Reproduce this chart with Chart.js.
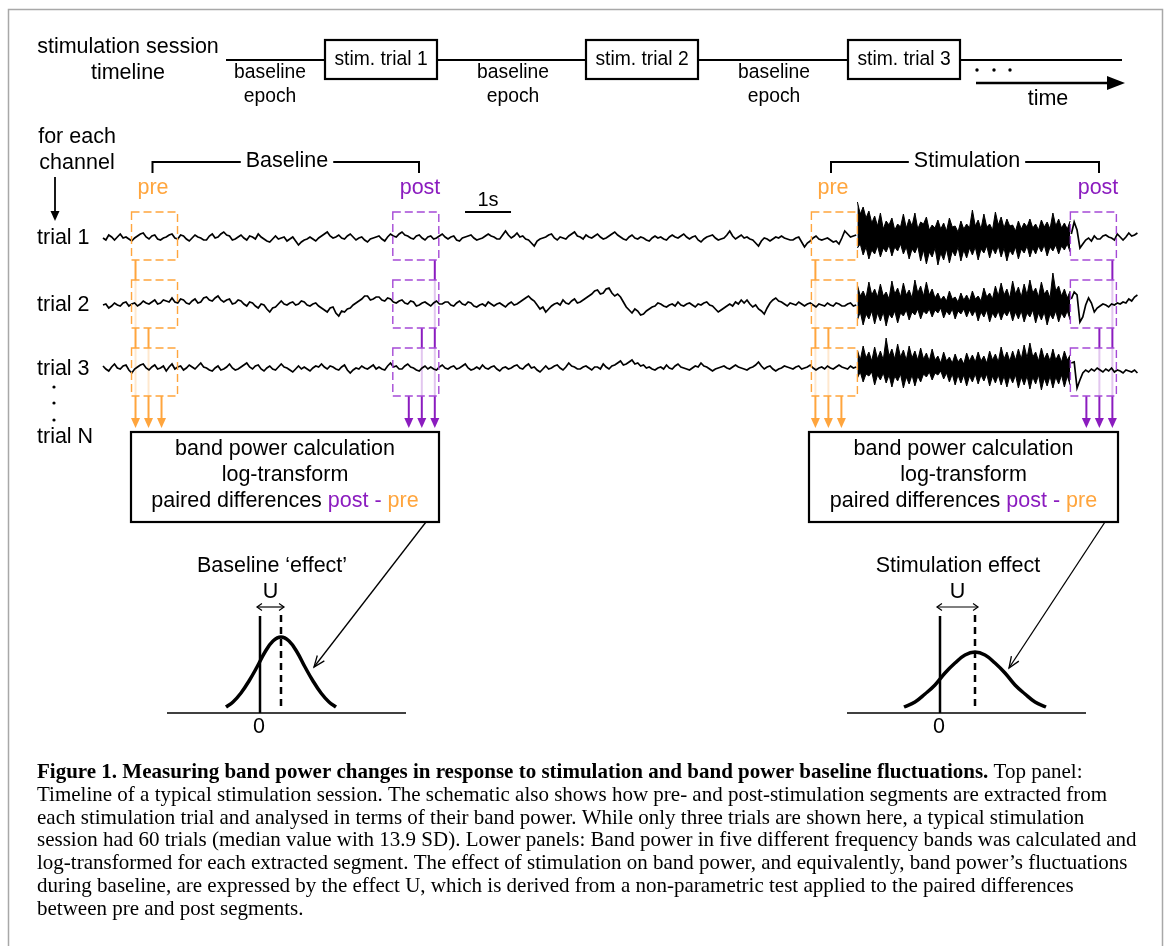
<!DOCTYPE html>
<html>
<head>
<meta charset="utf-8">
<script src="https://cdn.jsdelivr.net/npm/chart.js@4.4.0/dist/chart.umd.min.js"></script>
<style>
  html, body { margin: 0; padding: 0; background: #fff; overflow: hidden; }
  #chart { display: block; }
</style>
</head>
<body>
<canvas id="chart" width="1168" height="946"></canvas>
<script>
// ---- data --------------------------------------------------------------
const stimTrials = ['stim. trial 1', 'stim. trial 2', 'stim. trial 3'];
const trialLabels = ['trial 1', 'trial 2', 'trial 3'];
const boxLines = ['band power calculation', 'log-transform', 'paired differences '];

// samples of the recorded traces, 0.0625 s apart (amplitude, up = positive)
const DT = 0.0625;
const PRE_T0 = 0, STIM_T0 = 16.4, POST_T0 = 21.05;

const t1Pre = [
   0,-2, 3, 1,-2, 1, 4, 0, 1,-1,-3, 0, 2, 4, 5, 1,-1, 2, 3,-1,-2, 0, 1, 3,
   4, 0,-1, 3, 2,-1,-3, 0, 3, 1, 0,-2,-2, 2, 4, 0, 1, 4, 6, 3, 2,-2,-1, 1,
   3, 0,-2, 2, 1,-1, 4, 1,-1,-3,-4,-1, 2,-1, 0, 1,-3,-1, 1,-3,-7,-4,-2,-1,
   1,-1,-3, 0, 2, 4, 6, 2, 0, 1, 3, 0,-1, 2, 4, 1,-2, 0, 1,-2,-4,-1, 0, 1,
   2,-1,-3, 1, 4, 2, 1, 4, 6, 3, 2, 0,-1, 2, 3, 0,-2, 1, 2,-1, 0, 2, 4, 1,
  -1, 1, 2,-2,-3, 0, 1, 2, 3, 0,-2,-1, 0, 2, 4, 2, 1,-1,-1, 3, 7, 3, 0, 2,
   5, 1, 2,-1,-2,-5,-8,-3,-1, 0, 1, 3, 4, 0,-2, 1, 0,-1, 2, 4, 6, 2, 1,-1,
   3, 1, 0, 2, 4, 1,-1, 0, 2, 4, 6, 3, 1,-1,-2, 1, 3, 0,-1, 1, 0,-2,-3, 0,
   2, 0, 1,-1,-2, 1, 3, 1, 0, 2, 4, 1,-1, 1, 2,-2,-4,-1, 1, 2, 3, 0,-2,-1,
   0, 3, 7, 2,-1, 1, 3, 0, 1,-1,-2,-5,-8,-3, 0,-1,-3,-1, 1, 0, 2, 0,-1,-2,
  -2, 0, 1,-4,-9,-5,-3, 0, 2,-1,-2,-1, 0,-2,-4,-3,-6, 0, 7, 4, 1, 2, 3
];
const t1StimHi = [36,24,31,20,27,15,22,12,25,9,17,13,20,8,14,11,24,10,19,12,25,9,16,14,21,8,13,10,18,9,15,7,20,11,12,6,17,9,14,10,
  28,12,18,9,24,11,14,8,26,13,21,10,19,12,13,7,17,9,15,11,19,10,14,8,18,11,16,9,25,12,19,10,15,9,17];
const t1StimLo = [-10,-6,-17,-9,-21,-12,-16,-8,-19,-10,-14,-7,-18,-9,-13,-6,-16,-9,-21,-11,-15,-8,-23,-12,-26,-14,-19,-10,-27,-15,
  -22,-11,-25,-13,-18,-9,-23,-12,-20,-10,-17,-9,-22,-11,-15,-8,-20,-10,-16,-8,-19,-10,-23,-12,-17,-9,-21,-11,-15,-8,
  -19,-10,-16,-8,-14,-7,-18,-9,-13,-7,-16,-8,-12,-6,-14];
const t1Post = [4,16,8,-10,-6,-2,0,-3,2,-1,-1,2,3,1,0,-2,4,1,-2,1,5,2,3,5];

const t2Pre = [
   0, 1,-3,-1, 2, 0,-1, 2, 3,-1, 1, 2,-1, 1, 4, 2, 1, 3, 5, 1, 2, 5, 4, 3,
   7, 3, 2, 6, 5, 2, 1, 4, 6, 2, 3, 7, 8, 5, 4, 7, 9, 5, 3, 5, 6, 1, 2, 5,
   4, 1,-1, 3, 2,-1,-3, 1, 0,-4,-7,-3,-2, 1, 4, 1, 0, 2, 3, 0, 1, 4, 3, 0,
  -1, 1, 2,-1,-3,-5,-7,-3,-2,-8,-11,-6,-7,-4,-3, 0, 2, 4, 6, 9, 9, 5, 6, 8,
   8, 5, 4, 7, 6, 3, 2, 4, 5, 2, 1, 4, 3,-1, 0, 2, 3, 1,-1, 2, 4, 1, 1, 3,
   3, 0,-1, 2, 4, 1, 0, 3, 2,-1,-2, 0, 1,-1, 3, 1,-1, 1, 2, 0,-2, 1, 3, 0,
   1, 3, 5, 7, 9, 6, 4, 0,-4,-2,-7,-4,-1, 1, 2, 0, 5, 2, 1, 4, 6, 2, 3, 5,
   7, 9,11,14,15,11,12,16,17,12, 9,11, 8, 3,-2,-5,-8,-4,-6,-10,-9,-6,-4,-2,
  -1, 2, 1,-1,-2, 0, 1,-1, 3, 0,-1, 1, 2, 0,-2, 1, 0, 2, 3, 0,-1,-4,-7,-5,
  -3,-1, 1,-1, 3, 1, 5, 2, 5, 1,-2, 0,-4,-6,-9,-3, 2, 5, 7, 4, 3, 1,-1, 2,
   1, 0, 3, 1,-1, 1, 2, 0,-2, 1, 0,-1, 2, 0,-1, 2, 1,-1,-1, 1, 2,-1, 0
];
const t2StimHi = [20,9,14,7,23,10,16,8,21,9,13,6,24,11,17,8,22,10,15,7,25,12,19,9,23,10,16,7,12,5,9,4,14,6,8,3,12,5,10,4,
  14,6,9,4,17,8,12,6,19,9,22,10,16,7,24,11,18,8,21,10,25,12,17,8,23,11,15,7,32,14,19,9,16,7,14];
const t2StimLo = [-15,-7,-20,-9,-14,-6,-19,-8,-16,-7,-21,-9,-13,-6,-18,-8,-11,-5,-15,-7,-10,-4,-14,-6,-9,-4,-12,-5,-8,-3,
  -13,-6,-10,-4,-14,-6,-9,-4,-12,-5,-11,-5,-16,-7,-12,-5,-17,-8,-13,-6,-15,-7,-11,-5,-16,-7,-14,-6,-17,-8,
  -12,-5,-18,-8,-15,-7,-20,-9,-14,-6,-17,-8,-13,-6,-15];
const t2Post = [6,13,10,-17,-12,0,7,2,-7,-3,-1,1,0,-2,1,0,2,1,3,2,6,4,8,10];

const t3Pre = [
   2,-1,-3, 1, 4, 0,-1, 2, 3,-2,-5,-1, 1, 3, 4, 0,-2, 1, 3,-1, 0, 2,-3, 1,
   4,-1, 1, 2,-2, 0, 3, 1,-1, 2, 5, 1, 0,-2,-3, 0, 2,-2,-1, 1, 4, 0,-2,-1,
   1, 3, 5, 1,-1, 2, 3,-1,-3, 0, 2,-1,-2, 1, 4, 1, 0,-2,-4,-1, 2,-1, 1,-1,
  -3, 0, 2, 1, 4, 1,-1, 2, 1,-1,-2, 1, 3,-2,-5,-2, 0,-1, 2, 0,-1, 1, 3,-1,
   1,-1,-2, 2, 5, 1, 2,-1,-1, 2, 4, 1, 0,-2,-3, 0, 2,-1, 1,-1,-2, 1, 3, 0,
  -1, 1, 2,-1, 0, 2, 4, 0,-2,-1, 1,-1, 3, 0,-1, 1, 2,-1,-3, 0, 1,-1, 0, 2,
   3, 0,-1, 2, 4, 0, 1,-2,-4,-1, 2,-1, 0, 2, 3, 0,-2, 1, 5, 2, 1,-1,-1, 1,
   2, 0,-2, 1, 1,-1, 4, 1,-1, 2, 3, 5, 7, 3, 4, 6, 8, 4, 5, 2, 3, 0, 1,-1,
  -2, 0, 1,-1, 3, 0,-1, 2, 4, 1, 0,-1,-2, 0, 2, 1, 5, 2, 1,-1,-3,-1, 0, 1,
   2, 0,-1, 1, 3, 1, 0,-1,-2, 0, 1, 3, 6, 2,-1, 1, 2,-1,-3,-1, 0, 2, 1, 0,
  -1, 1, 2,-1, 0, 1, 3, 0,-2, 0, 1,-1, 2, 0,-1, 1, 3, 1, 0,-1, 2, 0, 1
];
const t3StimHi = [18,8,22,10,16,7,21,9,17,8,30,12,19,9,24,11,18,8,22,10,17,8,20,9,15,7,19,8,12,5,16,7,11,5,14,6,10,4,15,7,
  13,6,16,7,12,5,17,8,14,6,21,9,16,7,17,8,19,9,23,10,25,11,16,7,20,9,15,7,19,8,14,6,17,8,13];
const t3StimLo = [-10,-4,-14,-6,-8,-4,-17,-7,-12,-5,-15,-7,-19,-8,-13,-6,-20,-9,-16,-7,-18,-8,-14,-6,-9,-4,-12,-5,-7,-3,
  -11,-5,-14,-6,-17,-7,-15,-7,-18,-8,-14,-6,-16,-7,-13,-6,-18,-8,-15,-7,-17,-8,-19,-8,-15,-7,-20,-9,-17,-8,
  -21,-9,-16,-7,-22,-10,-18,-8,-20,-9,-16,-7,-19,-8,-17];
const t3Post = [5,6,-20,-12,-5,-2,-4,-1,-3,0,-2,-4,-1,-3,0,-4,-2,-3,-5,-2,-3,-4,-2,-5];

// shape of the two effect distributions (figure units)
const baseCurveX = [226,233,241,249,257,265,273,281,289,297,305,313,321,329,336];
const baseCurveY = [707,702,693,681,667,652,641,637,641,652,667,681,693,702,707];
const stimCurveX = [904,915,925,935,945,955,965,975,985,995,1005,1015,1025,1035,1046];
const stimCurveY = [707,702,694,685,673,663,655,652,655,663,673,685,694,702,707];

const captionBold = 'Figure 1. Measuring band power changes in response to stimulation and band power baseline fluctuations.';
const captionLines = [
  ' Top panel:',
  'Timeline of a typical stimulation session. The schematic also shows how pre- and post-stimulation segments are extracted from',
  'each stimulation trial and analysed in terms of their band power. While only three trials are shown here, a typical stimulation',
  'session had 60 trials (median value with 13.9 SD). Lower panels: Band power in five different frequency bands was calculated and',
  'log-transformed for each extracted segment. The effect of stimulation on band power, and equivalently, band power\u2019s fluctuations',
  'during baseline, are expressed by the effect U, which is derived from a non-parametric test applied to the paired differences',
  'between pre and post segments.'
];

// ---- layout -------------------------------------------------------------
const ORANGE = '#ffa53d', PURPLE = '#8b1cbf', PURPLE_DASH = '#a54ad6';
const SANS = '"Liberation Sans", Arial, sans-serif';
const SERIF = '"Liberation Serif", "Times New Roman", serif';
const PX_PER_S = 46, TRACE_X0 = 103;
const TRACE_Y = [238, 305, 368];
const WIN_LEN = 1;                       // analysis windows are 1 s long
const windows = [
  { t0: 0.62, color: ORANGE, dash: ORANGE, side: 'start' },
  { t0: 6.3, color: PURPLE, dash: PURPLE_DASH, side: 'end' },
  { t0: 15.4, color: ORANGE, dash: ORANGE, side: 'start' },
  { t0: 21.03, color: PURPLE, dash: PURPLE_DASH, side: 'end' }
];
const LINE_OFF = [4, 17, 30];
const BOX_TOP = [212, 280, 348], BOX_H = 48, ARROW_TIP = 428;

function seg(values, t0, base) {
  return values.map((v, i) => ({ x: t0 + i * DT, y: base - v }));
}

const traces = [
  [t1Pre, t1StimHi, t1StimLo, t1Post],
  [t2Pre, t2StimHi, t2StimLo, t2Post],
  [t3Pre, t3StimHi, t3StimLo, t3Post]
];

const datasets = [];
traces.forEach((tr, k) => {
  const base = TRACE_Y[k];
  const lineDs = data => ({ data, xAxisID: 't', yAxisID: 'y', borderColor: '#000',
    borderWidth: 1.7, pointRadius: 0, tension: 0, fill: false });
  datasets.push(lineDs(seg(tr[0], PRE_T0, base)));
  datasets.push(Object.assign(lineDs(seg(tr[1], STIM_T0, base)), { fill: '+1', backgroundColor: '#000', borderWidth: 1 }));
  datasets.push(Object.assign(lineDs(seg(tr[2], STIM_T0, base)), { borderWidth: 1 }));
  datasets.push(lineDs(seg(tr[3], POST_T0, base)));
});
[[baseCurveX, baseCurveY], [stimCurveX, stimCurveY]].forEach(([xs, ys]) => {
  datasets.push({ data: xs.map((x, i) => ({ x, y: ys[i] })), xAxisID: 'x', yAxisID: 'y',
    borderColor: '#000', borderWidth: 3.5, pointRadius: 0, tension: 0.4, fill: false });
});

// ---- drawing helpers -----------------------------------------------------
function strokePath(ctx, pts, width, color, dash) {
  ctx.save();
  ctx.beginPath();
  pts.forEach((p, i) => i ? ctx.lineTo(p[0], p[1]) : ctx.moveTo(p[0], p[1]));
  ctx.lineWidth = width;
  ctx.strokeStyle = color;
  ctx.setLineDash(dash || []);
  ctx.stroke();
  ctx.restore();
}
function tri(ctx, tip, ang, len, half, color) {
  const bx = tip[0] - len * Math.cos(ang), by = tip[1] - len * Math.sin(ang);
  const nx = -Math.sin(ang) * half, ny = Math.cos(ang) * half;
  ctx.save();
  ctx.beginPath();
  ctx.moveTo(tip[0], tip[1]);
  ctx.lineTo(bx + nx, by + ny);
  ctx.lineTo(bx - nx, by - ny);
  ctx.closePath();
  ctx.fillStyle = color;
  ctx.fill();
  ctx.restore();
}
function vee(ctx, tip, ang, len, spread, width) {
  const a1 = ang + Math.PI - spread, a2 = ang + Math.PI + spread;
  strokePath(ctx, [[tip[0] + len * Math.cos(a1), tip[1] + len * Math.sin(a1)], tip,
    [tip[0] + len * Math.cos(a2), tip[1] + len * Math.sin(a2)]], width, '#000');
}
function label(ctx, s, x, y, size, color, align) {
  ctx.save();
  ctx.font = size + 'px ' + SANS;
  ctx.fillStyle = color || '#000';
  ctx.textAlign = align || 'center';
  ctx.textBaseline = 'middle';
  ctx.fillText(s, x, y);
  ctx.restore();
}

const schematic = {
  id: 'schematic',
  beforeDatasetsDraw(chart) {
    const ctx = chart.ctx;
    const X = v => chart.scales.x.getPixelForValue(v);
    const Y = v => chart.scales.y.getPixelForValue(v);
    const Tp = v => chart.scales.t.getPixelForValue(v);

    // figure frame
    strokePath(ctx, [[X(8.5), Y(960)], [X(8.5), Y(9.5)], [X(1162.5), Y(9.5)], [X(1162.5), Y(960)]], 1.5, '#a8a8a8');

    // segment connectors down to the processing boxes
    windows.forEach(w => {
      LINE_OFF.forEach((off, k) => {
        const x = w.side === 'start' ? Tp(w.t0) + off : Tp(w.t0 + WIN_LEN) - off;
        strokePath(ctx, [[x, Y(BOX_TOP[k] + BOX_H)], [x, Y(ARROW_TIP - 8)]], 2, w.color);
        tri(ctx, [x, Y(ARROW_TIP)], Math.PI / 2, 10, 4.5, w.color);
      });
    });
    // window boxes veil what passes behind them
    ctx.save();
    ctx.fillStyle = 'rgba(255,255,255,0.75)';
    windows.forEach(w => {
      BOX_TOP.forEach(top => {
        const x0 = Tp(w.t0), x1 = Tp(w.t0 + WIN_LEN);
        ctx.fillRect(x0, Y(top), x1 - x0, Y(top + BOX_H) - Y(top));
      });
    });
    ctx.restore();
  },
  afterDatasetsDraw(chart) {
    const ctx = chart.ctx;
    const X = v => chart.scales.x.getPixelForValue(v);
    const Y = v => chart.scales.y.getPixelForValue(v);
    const Tp = v => chart.scales.t.getPixelForValue(v);

    // dashed analysis windows
    windows.forEach(w => {
      BOX_TOP.forEach(top => {
        const x0 = Tp(w.t0), x1 = Tp(w.t0 + WIN_LEN);
        ctx.save();
        ctx.strokeStyle = w.dash;
        ctx.lineWidth = 1.4;
        ctx.setLineDash([8, 4]);
        ctx.strokeRect(x0, Y(top), x1 - x0, Y(top + BOX_H) - Y(top));
        ctx.restore();
      });
    });

    // session timeline
    label(ctx, 'stimulation session', X(128), Y(47), 21.5);
    label(ctx, 'timeline', X(128), Y(73), 21.5);
    strokePath(ctx, [[X(226), Y(60)], [X(1122), Y(60)]], 2, '#000');
    [325, 586, 848].forEach((bx, i) => {
      ctx.save();
      ctx.fillStyle = '#fff';
      ctx.fillRect(X(bx), Y(40), X(bx + 112) - X(bx), Y(79) - Y(40));
      ctx.strokeStyle = '#000';
      ctx.lineWidth = 2.2;
      ctx.strokeRect(X(bx), Y(40), X(bx + 112) - X(bx), Y(79) - Y(40));
      ctx.restore();
      label(ctx, stimTrials[i], X(bx + 56), Y(60), 19.3);
    });
    [270, 513, 774].forEach(cx => {
      label(ctx, 'baseline', X(cx), Y(73), 19.3);
      label(ctx, 'epoch', X(cx), Y(97), 19.3);
    });
    [977, 994, 1010].forEach(cx => {
      ctx.beginPath(); ctx.arc(X(cx), Y(70), 1.7, 0, 2 * Math.PI); ctx.fillStyle = '#000'; ctx.fill();
    });
    strokePath(ctx, [[X(976), Y(83)], [X(1110), Y(83)]], 2.5, '#000');
    tri(ctx, [X(1125), Y(83)], 0, 18, 7, '#000');
    label(ctx, 'time', X(1048), Y(99), 21.5);

    // channel / trial labels
    label(ctx, 'for each', X(77), Y(137), 21.5);
    label(ctx, 'channel', X(77), Y(163), 21.5);
    strokePath(ctx, [[X(55), Y(177)], [X(55), Y(212)]], 1.8, '#000');
    tri(ctx, [X(55), Y(221)], Math.PI / 2, 10, 4.5, '#000');
    trialLabels.forEach((s, k) => label(ctx, s, X(37), Y(TRACE_Y[k] + (k === 2 ? 1 : 0)), 21.5, '#000', 'left'));
    [387, 403, 420].forEach(cy => {
      ctx.beginPath(); ctx.arc(X(54), Y(cy), 1.6, 0, 2 * Math.PI); ctx.fillStyle = '#000'; ctx.fill();
    });
    label(ctx, 'trial N', X(37), Y(437), 21.5, '#000', 'left');

    // brackets
    [['Baseline', 152.5, 419, 287], ['Stimulation', 831, 1099, 967]].forEach(([s, a, b, c]) => {
      ctx.font = '21.5px ' + SANS;
      const half = ctx.measureText(s).width / 2 + 5;
      strokePath(ctx, [[X(a), Y(173)], [X(a), Y(162)], [X(c) - half, Y(162)]], 2, '#000');
      strokePath(ctx, [[X(c) + half, Y(162)], [X(b), Y(162)], [X(b), Y(173)]], 2, '#000');
      label(ctx, s, X(c), Y(161), 21.5);
    });
    label(ctx, 'pre', X(153), Y(188), 21.5, ORANGE);
    label(ctx, 'post', X(420), Y(188), 21.5, PURPLE);
    label(ctx, 'pre', X(833), Y(188), 21.5, ORANGE);
    label(ctx, 'post', X(1098), Y(188), 21.5, PURPLE);

    // 1 s scale bar
    const sb = 7.87;
    strokePath(ctx, [[Tp(sb), Y(212)], [Tp(sb + 1), Y(212)]], 2, '#000');
    label(ctx, '1s', (Tp(sb) + Tp(sb + 1)) / 2, Y(200), 20);

    // processing boxes
    [[131, 439], [809, 1118]].forEach(([a, b]) => {
      ctx.save();
      ctx.strokeStyle = '#000';
      ctx.lineWidth = 2.2;
      ctx.strokeRect(X(a), Y(432), X(b) - X(a), Y(522) - Y(432));
      ctx.restore();
      const c = (X(a) + X(b)) / 2;
      label(ctx, boxLines[0], c, Y(449), 21.5);
      label(ctx, boxLines[1], c, Y(475), 21.5);
      ctx.save();
      ctx.font = '21.5px ' + SANS;
      const runs = [[boxLines[2], '#000'], ['post -', PURPLE], [' pre', ORANGE]];
      const total = runs.reduce((s, r) => s + ctx.measureText(r[0]).width, 0);
      let x = c - total / 2;
      ctx.textBaseline = 'middle';
      runs.forEach(([s, col]) => { ctx.fillStyle = col; ctx.fillText(s, x, Y(501)); x += ctx.measureText(s).width; });
      ctx.restore();
    });

    // arrows to the effect panels
    [[426, 522, 314, 667], [1105, 522, 1009, 668]].forEach(([x0, y0, x1, y1]) => {
      strokePath(ctx, [[X(x0), Y(y0)], [X(x1), Y(y1)]], 1.3, '#000');
      const ang = Math.atan2(Y(y1) - Y(y0), X(x1) - X(x0));
      vee(ctx, [X(x1), Y(y1)], ang, 12, 0.38, 1.3);
    });

    // effect panels
    [
      ['Baseline \u2018effect\u2019', 272, 260, 281, 167, 406],
      ['Stimulation effect', 958, 940, 975, 847, 1086]
    ].forEach(([title, tc, zero, mean, a, b]) => {
      label(ctx, title, X(tc), Y(566), 21.5);
      label(ctx, 'U', X((zero + mean) / 2), Y(592), 21.5);
      strokePath(ctx, [[X(zero - 3), Y(607)], [X(mean + 3), Y(607)]], 1.2, '#000');
      vee(ctx, [X(zero - 3), Y(607)], Math.PI, 6, 0.6, 1.2);
      vee(ctx, [X(mean + 3), Y(607)], 0, 6, 0.6, 1.2);
      strokePath(ctx, [[X(a), Y(713)], [X(b), Y(713)]], 1.5, '#000');
      strokePath(ctx, [[X(zero), Y(616)], [X(zero), Y(713)]], 2.5, '#000');
      strokePath(ctx, [[X(mean), Y(615)], [X(mean), Y(707)]], 2.5, '#000', [7, 5]);
      label(ctx, '0', X(zero - 1), Y(727), 21.5);
    });

    // caption
    ctx.save();
    ctx.fillStyle = '#000';
    ctx.textBaseline = 'alphabetic';
    ctx.textAlign = 'left';
    ctx.font = 'bold 21px ' + SERIF;
    ctx.fillText(captionBold, X(37), Y(778));
    const bw = ctx.measureText(captionBold).width;
    ctx.font = '21px ' + SERIF;
    captionLines.forEach((s, i) => {
      ctx.fillText(s, i === 0 ? X(37) + bw : X(37), Y(778 + i * 22.8));
    });
    ctx.restore();
  }
};

new Chart(document.getElementById('chart'), {
  type: 'line',
  data: { datasets },
  options: {
    responsive: false,
    animation: false,
    devicePixelRatio: 1,
    events: [],
    layout: { padding: 0 },
    plugins: { legend: { display: false }, tooltip: { enabled: false } },
    scales: {
      x: { type: 'linear', axis: 'x', min: 0, max: 1168, display: false },
      t: { type: 'linear', axis: 'x', min: -TRACE_X0 / PX_PER_S, max: (1168 - TRACE_X0) / PX_PER_S, display: false },
      y: { type: 'linear', axis: 'y', min: 0, max: 946, reverse: true, display: false }
    }
  },
  plugins: [schematic]
});
</script>
</body>
</html>
